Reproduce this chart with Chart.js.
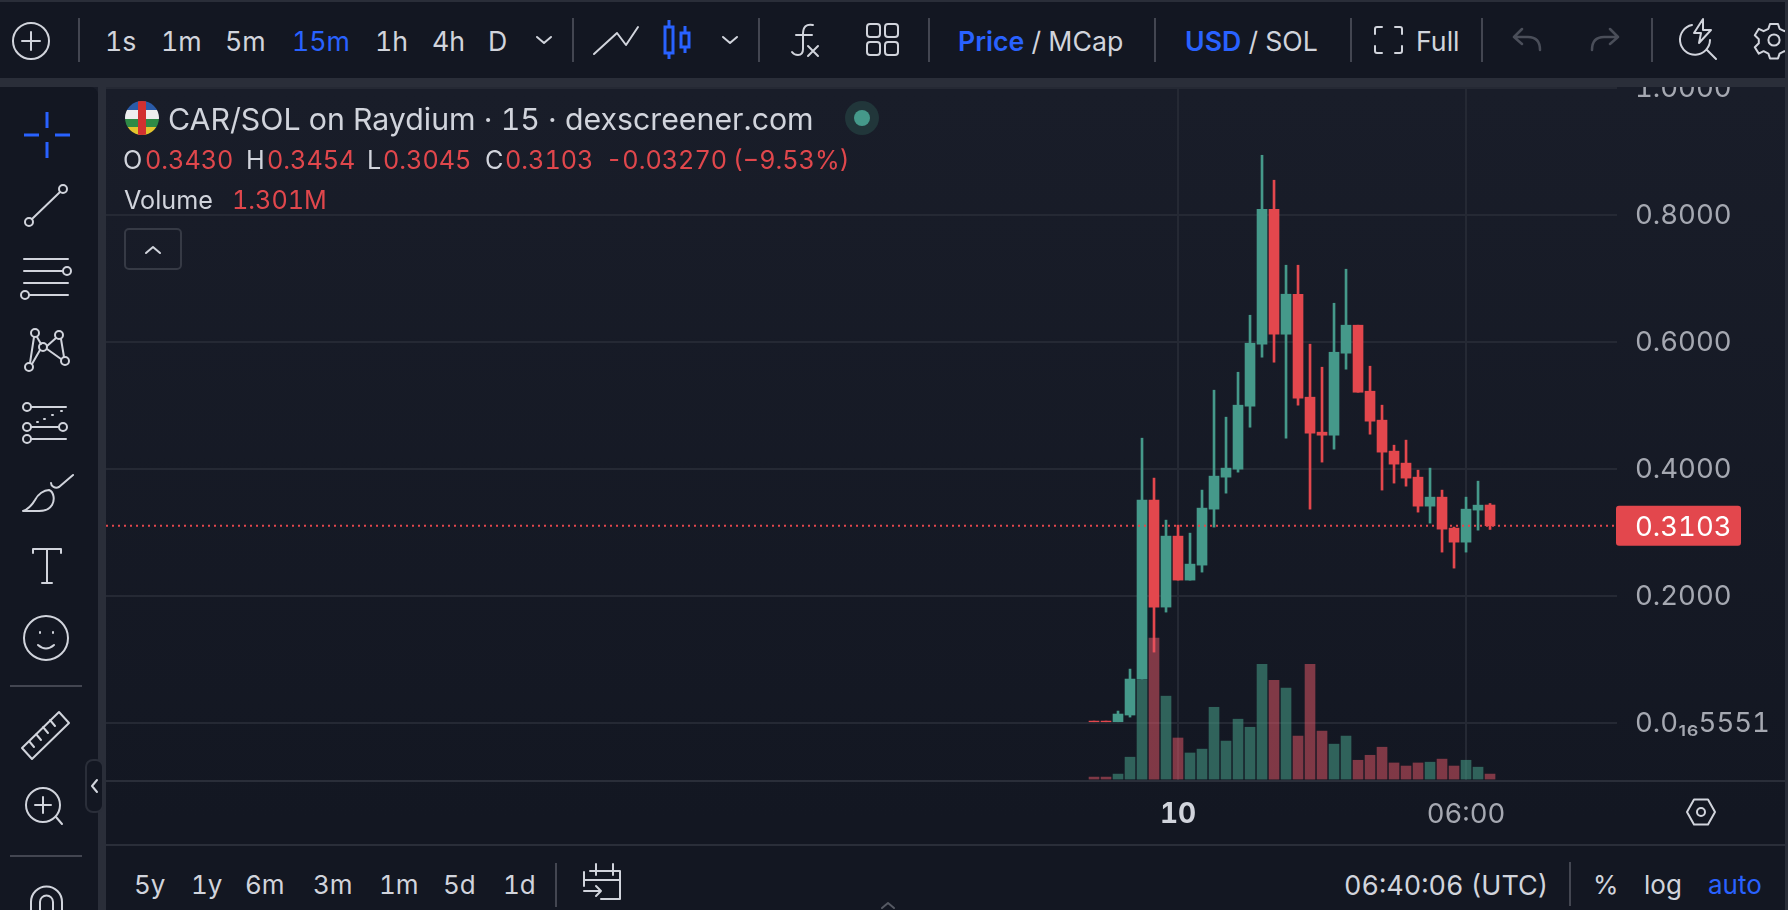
<!DOCTYPE html>
<html>
<head>
<meta charset="utf-8">
<title>CAR/SOL on Raydium</title>
<script src="https://cdn.jsdelivr.net/npm/chart.js@4"></script>
<style>
html, body { margin: 0; padding: 0; background: #131722; width: 1788px; height: 910px; overflow: hidden; }
body { position: relative; font-family: Inter, "Noto Sans", sans-serif; font-feature-settings: "tnum"; color: #d1d4dc; }
#chart { position: absolute; left: 0; top: 0; background: linear-gradient(#191d29 10%, #131722 90%); }
.panel { position: absolute; background: #131722; }
.band { position: absolute; background: #2a2e39; }
.t { position: absolute; white-space: nowrap; line-height: 1; transform: translateY(-50%); font-size: 26.700px; }
.tb { top: 41px; }
.bb { top: 885px; font-size: 26px; }
.lg { font-size: 25.200px; }
.r { color: #e0474c; }
.b { color: #2962ff; }
.sel { font-weight: 600; }
svg { position: absolute; left: 0; top: 0; }
svg .i { fill: none; stroke: #d1d4dc; stroke-width: 2; stroke-linecap: round; stroke-linejoin: round; }
svg .blue { fill: none; stroke: #2962ff; stroke-width: 3; }
svg .dim { fill: none; stroke: #4a4e59; stroke-width: 2.5; stroke-linecap: round; stroke-linejoin: round; }
svg .sep { stroke: #434651; stroke-width: 2; }
</style>
</head>
<body>
<canvas id="chart" width="1788" height="910"></canvas>

<div class="panel" style="left:0;top:0;width:1788px;height:78px"></div>
<div class="band" style="left:0;top:0;width:1788px;height:2px"></div>
<div class="band" style="left:0;top:78px;width:1788px;height:9px"></div>
<div class="panel" style="left:0;top:87px;width:98px;height:823px;border-top-right-radius:8px"></div>
<div class="band" style="left:98px;top:87px;width:8px;height:823px"></div>
<div class="panel" style="left:106px;top:846px;width:1682px;height:64px"></div>
<div class="band" style="left:106px;top:844px;width:1682px;height:2px"></div>
<div class="band" style="left:1618px;top:780px;width:170px;height:2px"></div>

<div class="t tb" style="left:105px">1s</div>
<div class="t tb" style="left:161px">1m</div>
<div class="t tb" style="left:225px">5m</div>
<div class="t tb b" style="left:292px">15m</div>
<div class="t tb" style="left:375px">1h</div>
<div class="t tb" style="left:432px">4h</div>
<div class="t tb" style="left:488px">D</div>
<div class="t tb" style="left:958px"><span class="b sel">Price</span> / MCap</div>
<div class="t tb" style="left:1185px"><span class="b sel">USD</span> / SOL</div>
<div class="t tb" style="left:1416px">Full</div>

<div class="t" style="left:168px;top:119px;font-size:30.300px">CAR/SOL on Raydium · 15 · dexscreener.com</div>
<div class="t lg" style="left:123px;top:161px">O</div>
<div class="t lg r" style="left:145px;top:161px">0.3430</div>
<div class="t lg" style="left:246px;top:161px">H</div>
<div class="t lg r" style="left:267px;top:161px">0.3454</div>
<div class="t lg" style="left:367px;top:161px">L</div>
<div class="t lg r" style="left:383px;top:161px">0.3045</div>
<div class="t lg" style="left:485px;top:161px">C</div>
<div class="t lg r" style="left:505px;top:161px">0.3103</div>
<div class="t lg r" style="left:606px;top:161px">-0.03270</div>
<div class="t lg r" style="left:733px;top:161px">(−9.53%)</div>
<div class="t lg" style="left:124px;top:201px">Volume</div>
<div class="t lg r" style="left:232px;top:201px">1.301M</div>

<div class="t bb" style="left:134px">5y</div>
<div class="t bb" style="left:191px">1y</div>
<div class="t bb" style="left:245px">6m</div>
<div class="t bb" style="left:313px">3m</div>
<div class="t bb" style="left:379px">1m</div>
<div class="t bb" style="left:443px">5d</div>
<div class="t bb" style="left:503px">1d</div>
<div class="t bb" style="left:1344px;font-size:27px">06:40:06 (UTC)</div>
<div class="t bb" style="left:1593px">%</div>
<div class="t bb" style="left:1644px">log</div>
<div class="t bb b" style="left:1708px">auto</div>

<svg width="1788" height="910">
  <!-- top toolbar -->
  <circle class="i" cx="31" cy="41" r="18"/><path class="i" d="M31 32v18M22 41h18"/>
  <path class="sep" d="M79 18v44M573 18v44M759 18v44M929 18v44M1155 18v44M1351 18v44M1482 18v44M1652 18v44"/>
  <path class="i" d="M537 37l7 6 7-6M723 37l7 6 7-6"/>
  <path class="i" d="M594 54L617 33 626 45 638 27"/>
  <path class="blue" d="M669 20v7M669 53v6M685 26v7M685 47v6"/>
  <rect class="blue" x="665" y="27" width="8" height="26"/>
  <rect class="blue" x="681" y="33" width="8" height="14"/>
  <path class="i" d="M813 25q-10-2-10 9v15q0 6-5 6-4 0-6-3M796 35h16M808 46l10 10M818 46l-10 10"/>
  <rect class="i" x="867" y="24" width="13" height="13" rx="3"/><rect class="i" x="885" y="24" width="13" height="13" rx="3"/>
  <rect class="i" x="867" y="42" width="13" height="13" rx="3"/><rect class="i" x="885" y="42" width="13" height="13" rx="3"/>
  <path class="i" d="M1375 34v-5q0-2 2-2h5M1395 27h5q2 0 2 2v5M1402 46v5q0 2-2 2h-5M1382 53h-5q-2 0-2-2v-5"/>
  <path class="dim" d="M1522 29l-8 8 8 7M1514 37h14q12 0 12 13M1610 29l8 8-8 7M1618 37h-14q-12 0-12 13"/>
  <path class="i" d="M1692 25a15 15 0 1 0 18 15M1707 50l9 9M1703 19l-9 14h7l-2 10 12-13h-8z"/>
  <g transform="translate(1774 40) scale(.8) translate(-1771 -40)">
    <path class="i" style="stroke-width:2.500" d="M1766 20h10l2 6 6 3 6-3 5 8-5 5v5l5 5-5 8-6-3-6 3-2 6h-10l-2-6-6-3-6 3-5-8 5-5v-5l-5-5 5-8 6 3 6-3z"/>
    <circle class="i" style="stroke-width:2.500" cx="1771" cy="40" r="7"/>
  </g>

  <!-- left tools -->
  <path class="blue" d="M47 112v16M47 142v16M24 135h15M55 135h15"/>
  <circle class="i" cx="29" cy="222" r="4"/><circle class="i" cx="63" cy="189" r="4"/><path class="i" d="M32 219L60 192"/>
  <path class="i" d="M24 259h44M24 271h39M24 283h44M29 295h39"/><circle class="i" cx="67" cy="271" r="4"/><circle class="i" cx="25" cy="295" r="4"/>
  <circle class="i" cx="35" cy="333" r="4"/><circle class="i" cx="59" cy="335" r="4"/><circle class="i" cx="43" cy="347" r="4"/>
  <circle class="i" cx="29" cy="367" r="4"/><circle class="i" cx="65" cy="361" r="4"/>
  <path class="i" d="M34 337l-4 26M37 337l4 7M47 346l9-8M61 339l3 18M47 349l14 10M40 350l-8 14"/>
  <circle class="i" cx="27" cy="407" r="4"/><circle class="i" cx="27" cy="427" r="4"/><circle class="i" cx="63" cy="427" r="4"/><circle class="i" cx="27" cy="439" r="4"/>
  <path class="i" d="M31 407h35M31 427h28M31 439h35"/>
  <path class="i" d="M37 422h1M44 419h1M52 415h1M61 411h1"/>
  <path class="i" d="M23 511c6-2 9-6 12-11 3-6 9-10 14-10 5 2 6 10 3 15-3 5-9 6-13 6zM51 483c0 3 4 6 8 4l14-12"/>
  <path class="i" d="M33 553v-4h28v4M47 549v34M42 583h10"/>
  <circle class="i" cx="46" cy="638" r="22"/><path class="i" d="M40 632v1M53 632v1M38 645q8 7 16 0"/>
  <path class="sep" d="M10 686h72M10 856h72"/>
  <path class="i" d="M22 748L59 712 69 723 32 759zM29 741l5 6M36 734l5 6M43 727l5 6M50 720l5 6"/>
  <circle class="i" cx="43" cy="805" r="17"/><path class="i" d="M43 797v16M35 805h16M56 817l6 7"/>
  <path class="i" d="M31 912v-10a15 15 0 0 1 31 0v10M40 912v-10a6 6 0 0 1 13 0v10"/>
  <rect x="86" y="760" width="17" height="52" rx="7" fill="#131722" stroke="#2a2e39" stroke-width="2"/>
  <path class="i" d="M97 780l-5 6 5 6"/>

  <!-- legend icons -->
  <defs><clipPath id="flag"><circle cx="142" cy="118" r="17"/></clipPath></defs>
  <g clip-path="url(#flag)">
    <rect x="125" y="101" width="34" height="9" fill="#2a5ba8"/>
    <rect x="125" y="110" width="34" height="9" fill="#eeeeee"/>
    <rect x="125" y="119" width="34" height="8" fill="#2f8a46"/>
    <rect x="125" y="127" width="34" height="8" fill="#e3c52e"/>
    <rect x="138" y="101" width="8" height="34" fill="#d23030"/>
  </g>
  <circle cx="862" cy="118" r="17" fill="#21363a"/><circle cx="862" cy="118" r="8" fill="#45998a"/>
  <rect x="125" y="229" width="56" height="40" rx="4" fill="none" stroke="#363a45" stroke-width="2"/>
  <path class="i" d="M146 253l7-6 7 6"/>

  <!-- bottom bar -->
  <path class="i" d="M1687 812l7-12.500h14l7 12.500-7 12.500h-14z"/><circle class="i" cx="1701" cy="812" r="4"/>
  <path class="sep" d="M556 863v44M1570 862v44"/>
  <path class="i" d="M590 871h30v28h-19M584 880h36M596 864v11M613 864v11M584 872v14M584 891h17M596 886l5 5-5 5"/>
  <path class="i" style="stroke:#555963" d="M882 908l6-5 6 5"/>
</svg>
<div class="band" style="left:1785px;top:0;width:3px;height:910px"></div>

<script>
"use strict";

// 15m candles, price in SOL
var bar_index = [0,1,2,3,4,5,6,7,8,9,10,11,12,13,14,15,16,17,18,19,20,21,22,23,24,25,26,27,28,29,30,31,32,33];
var opens = [0.0026,0.0026,0,0.0121,0.0688,0.3507,0.1822,0.2940,0.2247,0.2483,0.3365,0.3869,0.3995,0.4987,0.5964,0.8090,0.6121,0.6751,0.5129,0.4578,0.4530,0.5822,0.6263,0.5223,0.4767,0.4279,0.4090,0.3869,0.3412,0.3554,0.3066,0.2845,0.3350,0.3430];
var highs = [0.0026,0.0026,0.0184,0.0845,0.4483,0.3854,0.3192,0.3113,0.2987,0.3665,0.5239,0.4814,0.5522,0.6420,0.8940,0.8547,0.7208,0.7208,0.5964,0.5601,0.6609,0.7145,0.6263,0.5617,0.5003,0.4373,0.4452,0.3979,0.4011,0.3665,0.3082,0.3554,0.3806,0.3454];
var lows = [0,0,0,0.0089,0.0688,0.1113,0.1743,0.2247,0.2247,0.2373,0.3082,0.3617,0.3948,0.4656,0.5759,0.5680,0.4483,0.5003,0.3365,0.4106,0.4310,0.5570,0.5207,0.4546,0.3665,0.3775,0.3727,0.3318,0.3145,0.2688,0.2436,0.2688,0.3034,0.3045];
var closes = [0,0,0.0137,0.0688,0.3507,0.1822,0.2940,0.2247,0.2499,0.3381,0.3885,0.4011,0.5003,0.5979,0.8090,0.6121,0.6751,0.5113,0.4562,0.4530,0.5837,0.6263,0.5207,0.4751,0.4263,0.4074,0.3854,0.3412,0.3554,0.3050,0.2845,0.3365,0.3428,0.3103];
// volume in millions
var volumes = [0.52,0.52,1.3,5.7,25.7,36.7,21.6,10.7,6.8,7.8,18.7,9.9,15.6,13.5,29.9,25.7,23.7,11.2,29.9,12.5,9.1,11.2,4.9,6.2,8.3,4.2,3.4,4.2,4.4,5.2,3.4,4.9,3.1,1.301];

var x_tick_values = [7, 31];
var x_tick_labels = ["10", "06:00"];
var y_tick_values = [0, 0.2, 0.4, 0.6, 0.8, 1];
var y_tick_labels = ["0.0₁₆5551", "0.2000", "0.4000", "0.6000", "0.8000", "1.0000"];
var last_price = 0.3103;
var last_label = "0.3103";

var up_color = "#45998a";
var down_color = "#e3474d";
var up_volume = "rgba(69,153,133,0.58)";
var down_volume = "rgba(235,90,105,0.5)";
var grid_color = "#252934";
var font_family = "Inter, 'Noto Sans', sans-serif";

// x range leaves the empty space left and right of the candles
var x_min = -82.33;
var x_max = 43.58;

function candle_colors() {
    return bar_index.map(function(i) {
        return closes[i] >= opens[i] ? up_color : down_color;
    });
}

function volume_colors() {
    return bar_index.map(function(i) {
        return closes[i] >= opens[i] ? up_volume : down_volume;
    });
}

var last_price_box = {
    id: "last_price_box",
    afterDraw: function(chart) {
        var ctx = chart.ctx;
        var y = chart.scales.y.getPixelForValue(last_price);
        ctx.save();
        ctx.fillStyle = down_color;
        ctx.beginPath();
        ctx.roundRect(1616, y - 20, 125, 40, 3);
        ctx.fill();
        ctx.fillStyle = "#ffffff";
        ctx.font = "27.5px " + font_family;
        ctx.textBaseline = "middle";
        ctx.fillText(last_label, 1635, y + 2);
        ctx.restore();
    }
};

var chart = new Chart(document.getElementById("chart").getContext("2d"), {
    data: {
        datasets: [
            {
                type: "line",
                order: -1,
                data: [{x: x_min, y: last_price}, {x: x_max, y: last_price}],
                borderColor: down_color,
                borderWidth: 2,
                borderDash: [2, 4],
                pointRadius: 0,
                yAxisID: "y"
            },
            {
                type: "bar",
                order: 0,
                grouped: false,
                barThickness: 10,
                data: bar_index.map(function(i) { return {x: i, y: volumes[i]}; }),
                backgroundColor: volume_colors(),
                yAxisID: "v"
            },
            {
                type: "bar",
                order: 1,
                grouped: false,
                barThickness: 10,
                data: bar_index.map(function(i) { return {x: i, y: [opens[i], closes[i]]}; }),
                backgroundColor: candle_colors(),
                yAxisID: "y"
            },
            {
                type: "bar",
                order: 2,
                grouped: false,
                barThickness: 2,
                data: bar_index.map(function(i) { return {x: i, y: [lows[i], highs[i]]}; }),
                backgroundColor: candle_colors(),
                yAxisID: "y"
            }
        ]
    },
    options: {
        responsive: false,
        animation: false,
        devicePixelRatio: 1,
        layout: {padding: {left: 106, top: 88, right: 0, bottom: 0}},
        plugins: {legend: {display: false}, tooltip: {enabled: false}},
        scales: {
            x: {
                type: "linear",
                min: x_min,
                max: x_max,
                offset: false,
                grid: {color: grid_color, lineWidth: 2, drawTicks: false, offset: false},
                border: {color: "#2a2e39", width: 2},
                afterBuildTicks: function(scale) {
                    scale.ticks = x_tick_values.map(function(v) { return {value: v}; });
                },
                afterFit: function(scale) { scale.height = 129; },
                ticks: {
                    autoSkip: false,
                    maxRotation: 0,
                    padding: 17,
                    color: function(c) { return c.index === 0 ? "#d1d4dc" : "#a5a8b1"; },
                    font: function(c) {
                        return {family: font_family, size: c.index === 0 ? 28 : 27.500, weight: c.index === 0 ? "bold" : "normal"};
                    },
                    callback: function(value) {
                        return x_tick_labels[x_tick_values.indexOf(value)];
                    }
                }
            },
            y: {
                type: "linear",
                position: "right",
                min: -0.0918,
                max: 1,
                grid: {color: grid_color, lineWidth: 2, drawTicks: false},
                border: {display: false},
                afterBuildTicks: function(scale) {
                    scale.ticks = y_tick_values.map(function(v) { return {value: v}; });
                },
                afterFit: function(scale) { scale.width = 171; },
                ticks: {
                    autoSkip: false,
                    padding: 18,
                    labelOffset: 1,
                    color: "#a5a8b1",
                    font: {family: font_family, size: 27.5},
                    callback: function(value) {
                        return y_tick_labels[y_tick_values.indexOf(value)];
                    }
                }
            },
            v: {
                type: "linear",
                display: false,
                min: -0.5,
                max: 180
            }
        }
    },
    plugins: [last_price_box]
});
</script>
</body>
</html>
